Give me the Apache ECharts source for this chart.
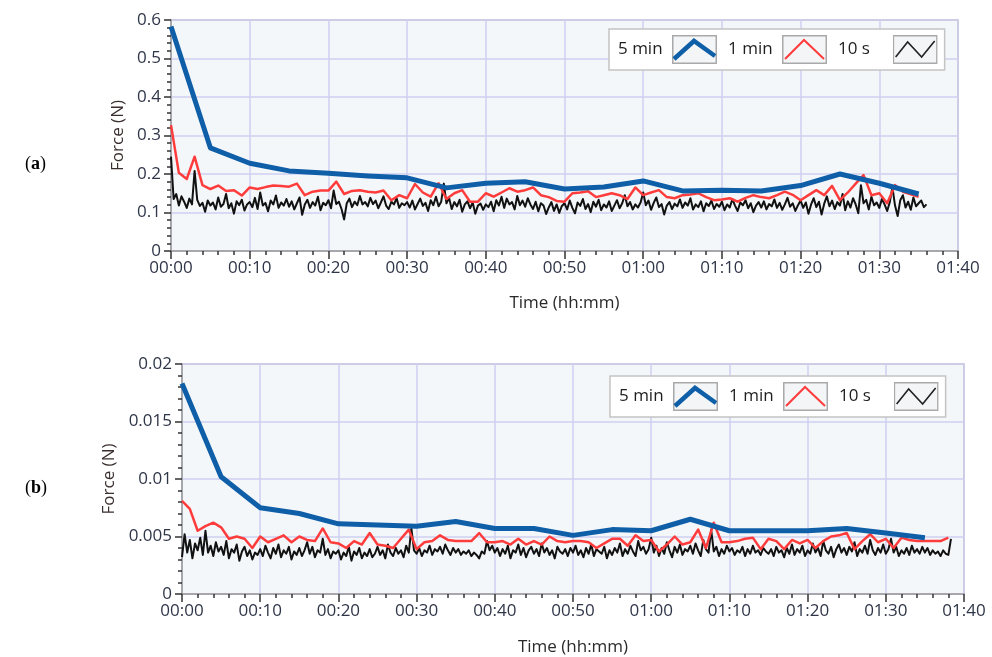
<!DOCTYPE html>
<html>
<head>
<meta charset="utf-8">
<title>Force vs time</title>
<script src="https://cdn.jsdelivr.net/npm/echarts@6/dist/echarts.min.js"></script>
<style>
  html, body { margin: 0; padding: 0; background: #fff; }
  #chart { width: 992px; height: 657px; }
</style>
</head>
<body>
<div id="chart"></div>
<script>
// --- data: (a) top chart ---
// 5 min averages, one value every 5 minutes
const blueTop = [.583, .268, .228, .208, .202, .195, .190, .164, .176, .180,
                 .161, .166, .182, .156, .158, .156, .170, .200, .176, .148];
// 1 min averages, one value every minute
const redTop = [.327, .203, .187, .245, .171, .161, .170, .156, .158, .144,
                .165, .161, .166, .170, .169, .167, .175, .145, .154, .157,
                .157, .180, .148, .156, .158, .154, .152, .157, .132, .145,
                .137, .174, .152, .141, .176, .135, .150, .158, .128, .128,
                .150, .141, .152, .163, .154, .158, .165, .145, .140, .130,
                .128, .150, .152, .155, .140, .145, .150, .145, .135, .165,
                .145, .152, .158, .140, .137, .145, .147, .150, .140, .132,
                .134, .137, .128, .138, .145, .140, .137, .145, .154, .146,
                .132, .145, .158, .145, .169, .132, .152, .175, .197, .145,
                .150, .124, .171, .154, .147, .141];
// 10 s signal, read every 20 s
const blackTop = [
  .245,.135,.148,.118,.142,.128,.112,.136,.121,.208,.133,.117,.125,.102,.131,
  .118,.126,.108,.139,.115,.122,.148,.111,.124,.097,.129,.119,.133,.105,.121,
  .127,.114,.138,.109,.152,.118,.125,.103,.131,.121,.144,.112,.126,.118,.135,
  .115,.129,.108,.124,.139,.094,.121,.133,.112,.127,.118,.141,.106,.125,.119,
  .132,.111,.157,.122,.128,.109,.082,.124,.136,.114,.128,.119,.143,.121,.127,
  .116,.138,.122,.131,.111,.126,.142,.118,.109,.128,.121,.137,.112,.124,.119,
  .127,.113,.131,.108,.122,.136,.117,.125,.104,.132,.119,.141,.116,.128,.175,
  .124,.138,.109,.127,.116,.133,.102,.121,.129,.111,.126,.097,.118,.123,.107,
  .121,.114,.128,.103,.132,.118,.141,.112,.136,.121,.127,.108,.143,.119,.131,
  .115,.137,.121,.109,.128,.103,.124,.118,.096,.113,.127,.104,.121,.099,.117,
  .124,.108,.131,.112,.098,.126,.117,.135,.109,.122,.101,.128,.115,.133,.106,
  .121,.113,.129,.104,.118,.132,.111,.124,.145,.116,.127,.108,.121,.113,.126,
  .152,.119,.131,.107,.125,.139,.114,.122,.095,.118,.127,.109,.123,.116,.134,
  .112,.126,.118,.137,.108,.121,.114,.129,.103,.124,.117,.131,.109,.122,.115,
  .128,.106,.121,.113,.135,.118,.104,.126,.119,.132,.111,.124,.101,.118,.127,
  .113,.129,.108,.122,.116,.134,.112,.125,.107,.121,.138,.115,.124,.104,.119,
  .131,.112,.126,.097,.121,.137,.114,.128,.095,.123,.142,.116,.131,.109,.127,
  .118,.148,.106,.129,.113,.137,.121,.098,.171,.124,.133,.108,.141,.119,.126,
  .112,.135,.121,.104,.127,.166,.118,.091,.132,.145,.113,.128,.107,.139,.116,
  .124,.131,.114,.121
];

// --- data: (b) bottom chart ---
const blueBot = [.0183, .0102, .0075, .0070, .0061, .0060, .0059, .0063, .0057, .0057,
                 .0051, .0056, .0055, .0065, .0055, .0055, .0055, .0057, .0053, .0049];
const redBot = [.0081, .0074, .0055, .0059, .0062, .0058, .0048, .0050, .0048, .0040,
                .0050, .0045, .0048, .0051, .0045, .0050, .0047, .0046, .0057, .0045,
                .0044, .0040, .0046, .0043, .0053, .0043, .0042, .0040, .0048, .0056,
                .0039, .0045, .0046, .0051, .0047, .0046, .0046, .0046, .0053, .0045,
                .0045, .0046, .0043, .0048, .0043, .0046, .0043, .0050, .0046, .0045,
                .0046, .0046, .0045, .0040, .0044, .0048, .0048, .0042, .0051, .0046,
                .0047, .0037, .0043, .0050, .0043, .0045, .0056, .0040, .0062, .0045,
                .0045, .0046, .0048, .0049, .0039, .0048, .0046, .0039, .0047, .0044,
                .0047, .0040, .0046, .0050, .0051, .0053, .0039, .0046, .0052, .0045,
                .0048, .0040, .0049, .0047, .0046, .0046, .0046, .0046, .0049];
const blackBot = [
  .0032,.0052,.0036,.0047,.0031,.0044,.0038,.0049,.0034,.0055,.0036,.0042,.0033,.0045,.0037,
  .0041,.0034,.0046,.0031,.0039,.0036,.0043,.0029,.0037,.0041,.0033,.0038,.0030,.0036,.0034,
  .0039,.0033,.0042,.0036,.0031,.0040,.0035,.0043,.0032,.0038,.0035,.0041,.0030,.0037,.0034,
  .0040,.0033,.0038,.0045,.0035,.0041,.0032,.0038,.0036,.0048,.0034,.0039,.0031,.0037,.0035,
  .0038,.0030,.0036,.0033,.0041,.0029,.0037,.0034,.0040,.0031,.0036,.0033,.0039,.0032,.0035,
  .0041,.0034,.0038,.0031,.0043,.0036,.0033,.0040,.0035,.0038,.0032,.0042,.0036,.0057,.0038,
  .0035,.0040,.0033,.0038,.0036,.0042,.0034,.0039,.0037,.0041,.0035,.0043,.0038,.0034,.0040,
  .0036,.0039,.0034,.0037,.0035,.0038,.0033,.0036,.0034,.0031,.0037,.0035,.0046,.0038,.0042,
  .0036,.0040,.0033,.0039,.0035,.0042,.0031,.0038,.0036,.0043,.0034,.0040,.0032,.0038,.0041,
  .0035,.0039,.0033,.0044,.0036,.0040,.0034,.0038,.0031,.0041,.0037,.0035,.0039,.0033,.0040,
  .0036,.0042,.0034,.0038,.0032,.0040,.0035,.0043,.0033,.0039,.0037,.0035,.0041,.0031,.0038,
  .0034,.0040,.0036,.0044,.0033,.0039,.0035,.0042,.0037,.0033,.0046,.0038,.0041,.0035,.0039,
  .0049,.0036,.0042,.0033,.0040,.0035,.0045,.0038,.0032,.0041,.0036,.0043,.0034,.0039,.0037,
  .0042,.0035,.0044,.0038,.0033,.0047,.0039,.0036,.0056,.0037,.0041,.0033,.0039,.0035,.0042,
  .0037,.0040,.0034,.0038,.0036,.0041,.0033,.0039,.0035,.0042,.0036,.0038,.0034,.0040,.0037,
  .0035,.0039,.0033,.0041,.0036,.0038,.0032,.0040,.0035,.0043,.0034,.0039,.0036,.0042,.0033,
  .0038,.0035,.0044,.0036,.0040,.0033,.0046,.0038,.0035,.0041,.0032,.0039,.0043,.0036,.0040,
  .0034,.0041,.0037,.0045,.0033,.0039,.0036,.0042,.0035,.0047,.0038,.0034,.0040,.0036,.0043,
  .0035,.0039,.0048,.0036,.0041,.0033,.0038,.0035,.0040,.0034,.0042,.0036,.0039,.0035,.0041,
  .0036,.0040,.0034,.0038,.0035,.0037,.0033,.0038,.0035,.0034,.0048
];

// sample periods in minutes
const STEP_BLUE = 5;
const STEP_RED = 1;
const STEP_BLACK = 1 / 3;

const seriesNames = ['5 min', '1 min', '10 s'];
const xTickFmt = (m) => {
  const h = Math.floor(m / 60), mm = Math.round(m % 60);
  return String(h).padStart(2, '0') + ':' + String(mm).padStart(2, '0');
};

const toPairs = (arr, step) => arr.map((v, i) => [i * step, v]);

const FONT = '"Open Sans", "Noto Sans", sans-serif';
const LABEL_COLOR = '#2f3648';
const GRID_LINE = '#cfcff0';

// LabVIEW style legend: every label gets the same slot width, padded with nbsp
const measureCtx = document.createElement('canvas').getContext('2d');
measureCtx.font = '17px ' + FONT;
const LEGEND_SLOT = 50;
const padLabel = (name) => {
  const w = measureCtx.measureText(name).width;
  const sp = measureCtx.measureText('\u00a0').width || 4.4;
  const n = Math.max(0, Math.round((LEGEND_SLOT - w) / sp));
  return name + '\u00a0'.repeat(n);
};

const svgIcon = (inner) => 'image://data:image/svg+xml;charset=utf-8,' + encodeURIComponent(
  '<svg xmlns="http://www.w3.org/2000/svg" width="45" height="29" viewBox="0 0 45 29">' +
  '<rect x="0.75" y="0.75" width="43.5" height="27.5" fill="#f3f5f7" stroke="#a9a9a9" stroke-width="1.5"/>' +
  inner + '</svg>');
const icons = [
  svgIcon('<polyline points="2,24 22,6 43,21" fill="none" stroke="#0f5ea8" stroke-width="4.5"/>'),
  svgIcon('<polyline points="3,24 22,5 42,24" fill="none" stroke="#ff3c3c" stroke-width="2"/>'),
  svgIcon('<polyline points="3,22 15,7 29,22 42,6" fill="none" stroke="#222" stroke-width="1.6"/>')
];

const chart = echarts.init(document.getElementById('chart'));

const makeX = (gridIndex, gap) => ({
  type: 'value', gridIndex, min: 0, max: 100, interval: 10,
  name: 'Time (hh:mm)', nameLocation: 'middle', nameGap: gap,
  nameTextStyle: { fontFamily: FONT, fontSize: 17, color: '#2a2a2a' },
  axisLine: { show: true, lineStyle: { color: '#9a9a9a', width: 1.5 } },
  axisTick: { show: true, length: 8, lineStyle: { color: '#333', width: 1.5 } },
  minorTick: { show: true, splitNumber: 5, length: 4, lineStyle: { color: '#333', width: 1.5 } },
  axisLabel: { fontFamily: FONT, fontSize: 17, color: LABEL_COLOR, margin: 9, formatter: xTickFmt },
  splitLine: { show: true, lineStyle: { color: GRID_LINE, width: 1.5 } }
});

const makeY = (gridIndex, max, interval, gap) => ({
  type: 'value', gridIndex, min: 0, max, interval,
  name: 'Force (N)', nameLocation: 'middle', nameGap: gap,
  nameTextStyle: { fontFamily: FONT, fontSize: 17, color: '#3a2e2e' },
  axisLine: { show: true, lineStyle: { color: '#9a9a9a', width: 1.5 } },
  axisTick: { show: true, length: 7, lineStyle: { color: '#333', width: 1.5 } },
  minorTick: { show: true, splitNumber: 5, length: 4, lineStyle: { color: '#333', width: 1.5 } },
  axisLabel: { fontFamily: FONT, fontSize: 17, color: LABEL_COLOR, margin: 10 },
  splitLine: { show: true, lineStyle: { color: GRID_LINE, width: 1.5 } }
});

const makeLegend = (left, top) => ({
  left, top, orient: 'horizontal', align: 'right',
  itemWidth: 45, itemHeight: 29, itemGap: 11,
  padding: [6, 7, 6, 9],
  backgroundColor: '#ffffff', borderColor: '#c4c4c4', borderWidth: 1.5,
  selectedMode: false,
  formatter: padLabel,
  textStyle: { fontFamily: FONT, fontSize: 17, color: '#1e1e1e' },
  data: seriesNames.map((n, i) => ({ name: n, icon: icons[i] }))
});

const lineSeries = (name, data, idx, color, width, z) => ({
  name, type: 'line', xAxisIndex: idx, yAxisIndex: idx, data,
  showSymbol: false, symbol: 'none', sampling: 'none', z,
  lineStyle: { color, width, join: 'round' }, itemStyle: { color }
});

const panelLabel = (letter, top) => ({
  type: 'text', left: 25, top,
  style: {
    text: '({b|' + letter + '})', fontFamily: '"Liberation Serif", serif', fontSize: 18, fill: '#000',
    rich: { b: { fontWeight: 'bold', fontFamily: '"Liberation Serif", serif', fontSize: 18 } }
  }
});

const option = {
  animation: false,
  backgroundColor: '#ffffff',
  grid: [
    { left: 171, top: 20, width: 787, height: 231, show: true, backgroundColor: '#f4f7f9', borderColor: '#b2b2b2', borderWidth: 1.5 },
    { left: 182, top: 364, width: 782, height: 231, show: true, backgroundColor: '#f4f7f9', borderColor: '#b2b2b2', borderWidth: 1.5 }
  ],
  xAxis: [makeX(0, 44), makeX(1, 45)],
  yAxis: [makeY(0, 0.6, 0.1, 44), makeY(1, 0.02, 0.005, 60)],
  legend: [makeLegend(609, 29), makeLegend(610, 376)],
  graphic: [panelLabel('a', 155), panelLabel('b', 479)],
  series: [
    lineSeries('10 s', toPairs(blackTop, STEP_BLACK), 0, '#111111', 2, 2),
    lineSeries('1 min', toPairs(redTop, STEP_RED), 0, '#ff3c3c', 2.5, 3),
    lineSeries('5 min', toPairs(blueTop, STEP_BLUE), 0, '#0f5ea8', 5, 4),
    lineSeries('10 s', toPairs(blackBot, STEP_BLACK), 1, '#111111', 2, 2),
    lineSeries('1 min', toPairs(redBot, STEP_RED), 1, '#ff3c3c', 2.5, 3),
    lineSeries('5 min', toPairs(blueBot, STEP_BLUE), 1, '#0f5ea8', 5, 4)
  ]
};

chart.setOption(option);
</script>
</body>
</html>
